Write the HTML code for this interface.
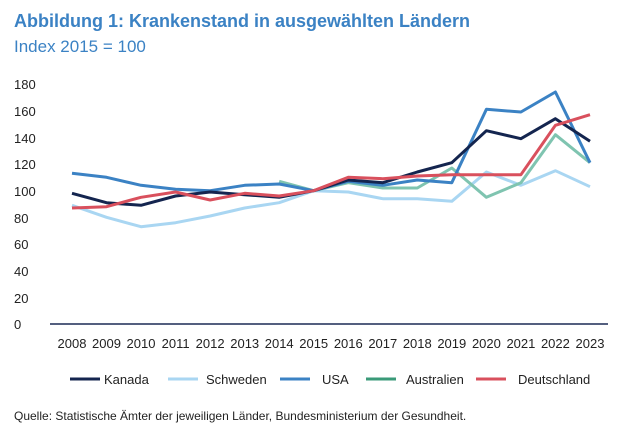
<!DOCTYPE html>
<html><head><meta charset="utf-8"><style>
body{margin:0;background:#fff;width:620px;height:432px;overflow:hidden;font-family:"Liberation Sans",sans-serif;}
</style></head><body>
<svg width="620" height="432" xmlns="http://www.w3.org/2000/svg" font-family="Liberation Sans, sans-serif">
<text x="14" y="27" font-size="18" font-weight="bold" fill="#3b82c4">Abbildung 1: Krankenstand in ausgewählten Ländern</text>
<text x="14" y="52" font-size="17" fill="#3b82c4">Index 2015 = 100</text>
<g font-size="13" fill="#222">
<text x="14" y="89">180</text><text x="14" y="116">160</text><text x="14" y="143">140</text><text x="14" y="169">120</text><text x="14" y="196">100</text><text x="14" y="223">80</text><text x="14" y="249">60</text><text x="14" y="276">40</text><text x="14" y="303">20</text><text x="14" y="329">0</text>
</g>
<line x1="50" y1="324" x2="608" y2="324" stroke="#1b2a55" stroke-width="1.5"/>
<g font-size="13" fill="#222" text-anchor="middle">
<text x="72" y="348">2008</text><text x="106.5" y="348">2009</text><text x="141" y="348">2010</text><text x="175.6" y="348">2011</text><text x="210.1" y="348">2012</text><text x="244.7" y="348">2013</text><text x="279.2" y="348">2014</text><text x="313.7" y="348">2015</text><text x="348.3" y="348">2016</text><text x="382.8" y="348">2017</text><text x="417.3" y="348">2018</text><text x="451.8" y="348">2019</text><text x="486.4" y="348">2020</text><text x="520.9" y="348">2021</text><text x="555.4" y="348">2022</text><text x="590" y="348">2023</text>
</g>
<g fill="none" stroke-width="3" stroke-linejoin="round">
<polyline stroke="#a9d6f2" points="72,205.3 106.5,217.3 141,226.7 175.6,222.7 210.1,216 244.7,208 279.2,202.7 313.7,190.7 348.3,192 382.8,198.7 417.3,198.7 451.8,201.3 486.4,172 520.9,185.3 555.4,170.7 590,186.7"/>
<polyline stroke="#7fc4b0" points="279.2,181.3 313.7,190.7 348.3,182.7 382.8,188 417.3,188 451.8,168 486.4,197.3 520.9,182.7 555.4,134.7 590,162.7"/>
<polyline stroke="#3b82c4" points="72,173.3 106.5,177.3 141,185.3 175.6,189.3 210.1,190.7 244.7,185.3 279.2,184 313.7,190.7 348.3,181.3 382.8,185.3 417.3,180 451.8,182.7 486.4,109.3 520.9,112 555.4,92 590,162.7"/>
<polyline stroke="#14254f" points="72,193.3 106.5,202.7 141,205.3 175.6,196 210.1,192 244.7,194.7 279.2,197.3 313.7,190.7 348.3,180 382.8,182.7 417.3,172 451.8,162.7 486.4,130.7 520.9,138.7 555.4,118.7 590,141.3"/>
<polyline stroke="#d9505d" points="72,208 106.5,206.7 141,197.3 175.6,192 210.1,200 244.7,193.3 279.2,196 313.7,190.7 348.3,177.3 382.8,178.7 417.3,176 451.8,174.7 486.4,174.7 520.9,174.7 555.4,125.3 590,114.7"/>
</g>
<g font-size="13" fill="#222">
<line x1="70" y1="379" x2="100" y2="379" stroke="#14254f" stroke-width="3"/><text x="104" y="384">Kanada</text>
<line x1="168" y1="379" x2="198" y2="379" stroke="#a9d6f2" stroke-width="3"/><text x="206" y="384">Schweden</text>
<line x1="280" y1="379" x2="310" y2="379" stroke="#3b82c4" stroke-width="3"/><text x="322" y="384">USA</text>
<line x1="366" y1="379" x2="396" y2="379" stroke="#3a9a78" stroke-width="3"/><text x="406" y="384">Australien</text>
<line x1="476" y1="379" x2="506" y2="379" stroke="#d9505d" stroke-width="3"/><text x="518" y="384">Deutschland</text>
</g>
<text x="14" y="420" font-size="12" fill="#222">Quelle: Statistische Ämter der jeweiligen Länder, Bundesministerium der Gesundheit.</text>
</svg>
</body></html>
